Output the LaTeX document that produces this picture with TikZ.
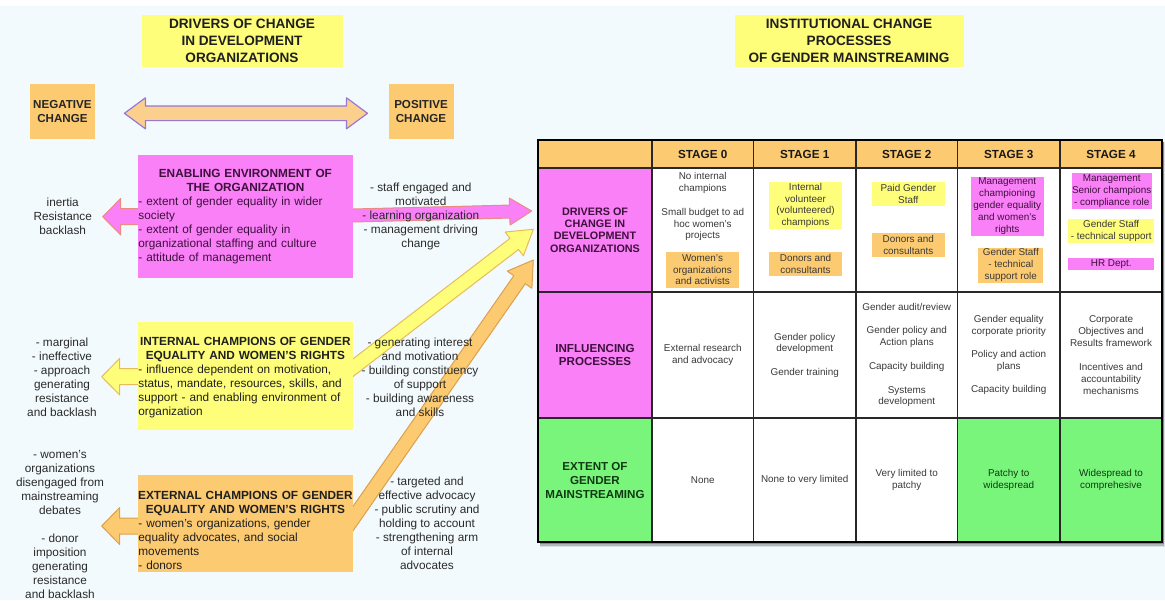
\documentclass[tikz,border=0pt]{standalone}
\usepackage{fontspec}
\setmainfont{Liberation Sans}
\usetikzlibrary{calc}
\pgfdeclarelayer{back}
\pgfdeclarelayer{arrowlayer}
\pgfsetlayers{back,arrowlayer,main}
\definecolor{bgc}{RGB}{243,250,253}
\definecolor{yel}{RGB}{255,254,122}
\definecolor{ora}{RGB}{252,202,112}
\definecolor{mag}{RGB}{249,128,246}
\definecolor{grn}{RGB}{122,245,124}
\definecolor{dpur}{RGB}{62,16,62}
\definecolor{dgrn}{RGB}{16,58,18}
\definecolor{txt}{RGB}{42,42,42}
\definecolor{celltx}{RGB}{58,58,58}
\definecolor{tline}{RGB}{40,40,40}
\definecolor{pinkedge}{RGB}{235,140,130}
\definecolor{yeledge}{RGB}{230,188,90}
\definecolor{oraedge}{RGB}{220,160,78}
\definecolor{dblfill}{RGB}{251,207,140}
\definecolor{dbledge}{RGB}{150,120,215}
\newcommand\fatarrow[6]{%
  \coordinate (fatneck) at ($(#3)!#6!(#2)$);
  \draw[#1] ($(#2)!#4!90:(#3)$) -- ($(fatneck)!#4!90:(#3)$) -- ($(fatneck)!#5!90:(#3)$) -- (#3) -- ($(fatneck)!#5!-90:(#3)$) -- ($(fatneck)!#4!-90:(#3)$) -- ($(#2)!#4!-90:(#3)$) -- cycle;}
\newcommand\ctitle[1]{\makebox[\linewidth][c]{\bfseries #1}\\}
\tikzset{
  every node/.style={inner sep=0pt, outer sep=0pt},
  titlebox/.style={fill=yel, minimum height=51.7pt, align=center, font=\fontsize{13.6}{16.7}\selectfont\bfseries, text=black!88},
  changebox/.style={fill=ora, minimum width=65pt, minimum height=55.3pt, align=center, font=\fontsize{11.6}{13.4}\selectfont\bfseries, text=black!85},
  driverbox/.style={minimum width=215.3pt},
  boxtext/.style={text width=214pt, font=\fontsize{11.8}{14}\selectfont},
  freetxt/.style={align=center, font=\fontsize{11.8}{14}\selectfont, text=txt},
  pinkarrow/.style={fill=mag, draw=pinkedge, line width=1pt, line join=round},
  yelarrow/.style={fill=yel, draw=yeledge, line width=1pt, line join=round},
  oraarrow/.style={fill=ora, draw=oraedge, line width=1pt, line join=round},
  dblarrow/.style={fill=dblfill, draw=dbledge, line width=1.2pt, line join=round},
  cell/.style={draw=tline, line width=1.1pt, fill=white, align=center, font=\fontsize{9.9}{11.8}\selectfont, text=celltx},
  hdrow/.style={minimum height=28pt, fill=ora, font=\fontsize{11.7}{14}\selectfont\bfseries, text=black!90},
  rowA/.style={minimum height=124pt},
  rowB/.style={minimum height=126pt},
  rowC/.style={minimum height=124pt},
  wA/.style={minimum width=114pt},
  wB/.style={minimum width=101.5pt},
  wC/.style={minimum width=102.5pt},
  wD/.style={minimum width=101.5pt},
  wE/.style={minimum width=102.5pt},
  wF/.style={minimum width=102pt},
  rowhd/.style={font=\fontsize{11.6}{13.5}\selectfont\bfseries},
  celltext/.style={align=center, font=\fontsize{9.9}{11.8}\selectfont, text=celltx},
  sticker/.style={align=center, font=\fontsize{9.9}{11.8}\selectfont, text=celltx},
}
\begin{document}
\begin{tikzpicture}[x=1pt,y=-1pt]
\useasboundingbox (0,0) rectangle (1165,600);
\begin{pgfonlayer}{back}
  \fill[bgc] (0,0) rectangle (1165,600);
  \fill[white] (0,0) rectangle (1165,6);
\end{pgfonlayer}

% titles
\node[titlebox, minimum width=201pt] (ltitle) at (242,40.8) {DRIVERS OF CHANGE\\IN DEVELOPMENT\\ORGANIZATIONS};
\node[titlebox, minimum width=229pt] (rtitle) at (849,40.8) {INSTITUTIONAL CHANGE\\PROCESSES\\OF GENDER MAINSTREAMING};

% negative / positive
\node[changebox] (neg) at (62.4,111.7) {NEGATIVE\\CHANGE};
\node[changebox] (pos) at (421,111.7) {POSITIVE\\CHANGE};

% driver boxes
\node[driverbox, fill=mag, minimum height=123.3pt] (env) at (245.4,216.7) {};
\node[boxtext, text=dpur] (envtxt) at (env.center) {\ctitle{ENABLING ENVIRONMENT OF}\ctitle{THE ORGANIZATION}- extent of gender equality in wider\\society\\- extent of gender equality in\\organizational staffing and culture\\- attitude of management};

\node[driverbox, fill=yel, minimum height=108.3pt] (int) at (245.4,375.8) {};
\node[boxtext, text=black!88] (inttxt) at ($(int.center)+(0,1.9)$) {\ctitle{INTERNAL CHAMPIONS OF GENDER}\ctitle{EQUALITY AND WOMEN'S RIGHTS}- influence dependent on motivation,\\status, mandate, resources, skills, and\\support - and enabling environment of\\organization};

\node[driverbox, fill=ora, minimum height=96.7pt] (ext) at (245.4,523.3) {};
\node[boxtext, text=black!88] (exttxt) at ($(ext.center)+(0,6.7)$) {\ctitle{EXTERNAL CHAMPIONS OF GENDER}\ctitle{EQUALITY AND WOMEN'S RIGHTS}- women's organizations, gender\\equality advocates, and social\\movements\\- donors};

% table shadow
\fill[black, opacity=.10] (540,142) rectangle (1165,547);
\fill[black, opacity=.18] (540,142) rectangle (1164,545.5);
\fill[black, opacity=.25] (540,142) rectangle (1163.5,544);

% table header
\node[cell, hdrow, wA] (h0) at (595,154) {};
\node[cell, hdrow, wB] (h1) at (702.75,154) {STAGE 0};
\node[cell, hdrow, wC] (h2) at (804.75,154) {STAGE 1};
\node[cell, hdrow, wD] (h3) at (906.75,154) {STAGE 2};
\node[cell, hdrow, wE] (h4) at (1008.75,154) {STAGE 3};
\node[cell, hdrow, wF] (h5) at (1111,154) {STAGE 4};
% row 1
\node[cell, rowA, wA, fill=mag, text=dpur, font=\fontsize{10.8}{12.4}\selectfont\bfseries] (r1c0) at (595,230) {DRIVERS OF\\CHANGE IN\\DEVELOPMENT\\ORGANIZATIONS};
\node[cell, rowA, wB] (r1c1) at (702.75,230) {};
\node[cell, rowA, wC] (r1c2) at (804.75,230) {};
\node[cell, rowA, wD] (r1c3) at (906.75,230) {};
\node[cell, rowA, wE] (r1c4) at (1008.75,230) {};
\node[cell, rowA, wF] (r1c5) at (1111,230) {};
% row 2
\node[cell, rowB, wA, fill=mag, text=dpur, rowhd] (r2c0) at (595,355) {INFLUENCING\\PROCESSES};
\node[cell, rowB, wB] (r2c1) at (702.75,355) {External research\\and advocacy};
\node[cell, rowB, wC] (r2c2) at (804.75,355) {Gender policy\\development\\[11.5pt]Gender training};
\node[cell, rowB, wD] (r2c3) at (906.75,355) {Gender audit/review\\[11.5pt]Gender policy and\\Action plans\\[12.5pt]Capacity building\\[11.5pt]Systems\\development};
\node[cell, rowB, wE] (r2c4) at (1008.75,355) {Gender equality\\corporate priority\\[11.5pt]Policy and action\\plans\\[11.5pt]Capacity building};
\node[cell, rowB, wF] (r2c5) at (1111,355) {Corporate\\Objectives and\\Results framework\\[12.5pt]Incentives and\\accountability\\mechanisms};
% row 3
\node[cell, rowC, wA, fill=grn, text=dgrn, rowhd, font=\fontsize{11.6}{14}\selectfont\bfseries] (r3c0) at (595,480) {EXTENT OF\\GENDER\\MAINSTREAMING};
\node[cell, rowC, wB] (r3c1) at (702.75,480) {None};
\node[cell, rowC, wC] (r3c2) at (804.75,480) {None to very limited};
\node[cell, rowC, wD] (r3c3) at (906.75,480) {Very limited to\\patchy};
\node[cell, rowC, wE, fill=grn, text=dgrn] (r3c4) at (1008.75,480) {Patchy to\\widespread};
\node[cell, rowC, wF, fill=grn, text=dgrn] (r3c5) at (1111,480) {Widespread to\\comprehesive};
\draw[line width=1.6pt, black] (h0.north west) rectangle (r3c5.south east);

% row 1 contents
\node[celltext] (s0a) at (702.75,182.8) {No internal\\champions};
\node[celltext] (s0b) at (702.75,224.6) {Small budget to ad\\hoc women's\\projects};
\node[sticker, fill=ora, minimum width=73pt, minimum height=36pt] (s0c) at (702.5,269.7) {Women's\\organizations\\and activists};
\node[sticker, fill=yel, minimum width=72.4pt, minimum height=47.6pt] (s1a) at (805.5,205.5) {Internal\\volunteer\\(volunteered)\\champions};
\node[sticker, fill=ora, minimum width=72.4pt, minimum height=23.4pt] (s1b) at (805.5,264) {Donors and\\consultants};
\node[sticker, fill=yel, minimum width=73.3pt, minimum height=24pt] (s2a) at (908.3,193.7) {Paid Gender\\Staff};
\node[sticker, fill=ora, minimum width=73.3pt, minimum height=23.4pt] (s2b) at (908.3,245) {Donors and\\consultants};
\node[sticker, fill=mag, text=dpur, minimum width=73.3pt, minimum height=59pt] (s3a) at (1007.3,206.2) {Management\\championing\\gender equality\\and women's\\rights};
\node[sticker, fill=ora, minimum width=65pt, minimum height=35pt] (s3b) at (1010.8,265.2) {Gender Staff\\- technical\\support role};
\node[sticker, fill=mag, text=dpur, minimum width=80pt, minimum height=35.7pt] (s4a) at (1111.7,191.2) {Management\\Senior champions\\- compliance role};
\node[sticker, fill=yel, minimum width=85.7pt, minimum height=24.3pt] (s4b) at (1111.2,231.2) {Gender Staff\\- technical support};
\node[sticker, fill=mag, text=dpur, minimum width=85.7pt, minimum height=12pt] (s4c) at (1111.2,264.2) {HR Dept.};

% free texts
\node[freetxt] (negenv) at (62.7,216.2) {inertia\\Resistance\\backlash};
\node[freetxt] (negint) at (62,377.7) {- marginal\\- ineffective\\- approach\\generating\\resistance\\and backlash};
\node[freetxt] (negext) at (60,524.5) {- women's\\organizations\\disengaged from\\mainstreaming\\debates\\[14pt]- donor\\imposition\\generating\\resistance\\and backlash};
\node[freetxt] (posenv) at (420.8,216.7) {- staff engaged and\\motivated\\- learning organization\\- management driving\\change};
\node[freetxt] (posint) at (420,377.7) {- generating interest\\and motivation\\- building constituency\\of support\\- building awareness\\and skills};
\node[freetxt] (posext) at (427,523.3) {- targeted and\\effective advocacy\\- public scrutiny and\\holding to account\\- strengthening arm\\of internal\\advocates};

% arrow end points
\coordinate (dL) at ($(neg.east)+(29.5,1.6)$);
\coordinate (dR) at ($(pos.west)+(-21,1.6)$);
\coordinate (envA) at ($(env.west)+(8,0)$);
\coordinate (envL) at (102.7,216.7);
\coordinate (intA) at ($(int.west)+(8,0.9)$);
\coordinate (intL) at (101.7,376.7);
\coordinate (extA) at ($(ext.west)+(8,2.7)$);
\coordinate (extL) at (101.7,526);
\coordinate (envB) at ($(env.east)+(-8,-1)$);
\coordinate (envR) at ($(r1c0.west)+(-6.3,-19)$);
\coordinate (intB) at ($(int.east)+(-8,-2)$);
\coordinate (intR) at ($(r1c0.west)+(-4.7,-0.7)$);
\coordinate (extB) at ($(ext.east)+(-8,6.7)$);
\coordinate (extR) at ($(r1c0.west)+(-4.7,30)$);

\begin{pgfonlayer}{arrowlayer}
  \coordinate (nA) at ($(dL)!21pt!(dR)$);
  \coordinate (nB) at ($(dR)!21pt!(dL)$);
  \draw[dblarrow] (dL) -- ($(nA)!15.5pt!90:(dR)$) -- ($(nA)!7.3pt!90:(dR)$) -- ($(nB)!7.3pt!-90:(dL)$) -- ($(nB)!15.5pt!-90:(dL)$) -- (dR) -- ($(nB)!15.5pt!90:(dL)$) -- ($(nB)!7.3pt!90:(dL)$) -- ($(nA)!7.3pt!-90:(dR)$) -- ($(nA)!15.5pt!-90:(dR)$) -- cycle;
  \fatarrow{pinkarrow}{envA}{envL}{8pt}{18.3pt}{18pt}
  \fatarrow{yelarrow}{intA}{intL}{8pt}{18.3pt}{18pt}
  \fatarrow{oraarrow}{extA}{extL}{8pt}{18.5pt}{18pt}
  \fatarrow{oraarrow}{extB}{extR}{7pt}{15pt}{24pt}
  \fatarrow{yelarrow}{intB}{intR}{7pt}{15pt}{24pt}
  \fatarrow{pinkarrow}{envB}{envR}{6.5pt}{13.5pt}{22pt}
\end{pgfonlayer}
\end{tikzpicture}
\end{document}
